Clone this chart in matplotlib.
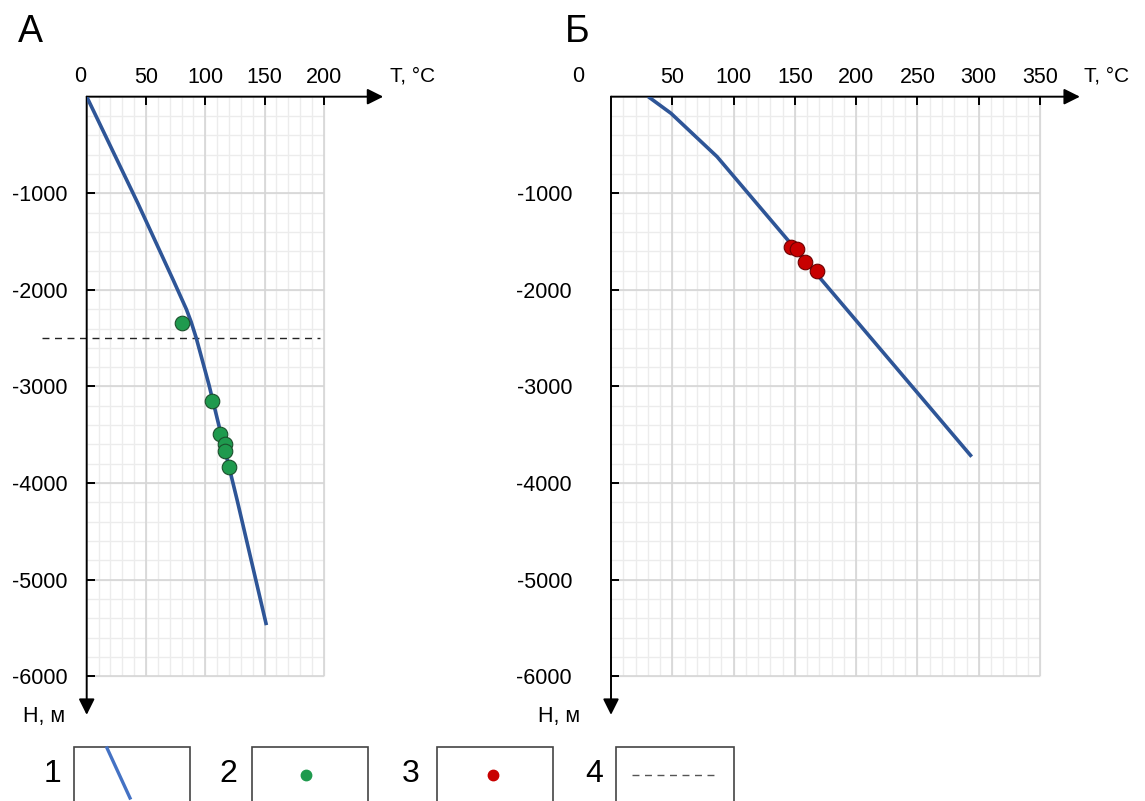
import matplotlib
matplotlib.use("Agg")
import matplotlib.pyplot as plt
from matplotlib.patches import Rectangle

plt.rcParams['font.family'] = ['Liberation Sans', 'DejaVu Sans']
plt.rcParams['axes.unicode_minus'] = False

# panel A: temperature profile (T, °C) vs depth (H, m)
curveA_T = [0.0, 43.0, 73.0, 84.0, 88.0, 92.4, 103.1, 126.8, 151.5]
curveA_H = [0, -1100, -1900, -2200, -2330, -2500, -2984, -4175, -5471]
ptsA_T = [80.6, 105.9, 112.6, 116.6, 116.4, 119.7]
ptsA_H = [-2340, -3147, -3495, -3595, -3668, -3836]
dashA_H = -2500

# panel B
curveB_T = [30.4, 48.9, 86.5, 294.2]
curveB_H = [0, -172, -621, -3727]
ptsB_T = [146.6, 152.0, 158.2, 168.3]
ptsB_H = [-1553, -1580, -1712, -1801]

yticks = [-1000, -2000, -3000, -4000, -5000, -6000]
xticksA = [50, 100, 150, 200]
xticksB = [50, 100, 150, 200, 250, 300, 350]

LINE = '#2e5597'
GREEN = '#1f9a4e'
RED = '#c80000'
FS = 15.5

fig = plt.figure(figsize=(11.45, 8.01), dpi=100)


def panel(rect, xmax, xhi, xticks, arrow_x, ypad, zero_x, unit_x, h_x, letter, letter_x):
    ax = fig.add_axes(rect)
    ax.set_xlim(0, xhi)
    ax.set_ylim(-6450, 0)
    for s in ax.spines.values():
        s.set_visible(False)
    # grid
    ax.vlines(range(10, xmax + 1, 10), -6000, 0, color='#ececec', lw=1, zorder=0)
    ax.hlines(range(-200, -6001, -200), 0, xmax, color='#ececec', lw=1, zorder=0)
    ax.vlines(range(50, xmax + 1, 50), -6000, 0, color='#d6d6d6', lw=1.2, zorder=0)
    ax.hlines(yticks, 0, xmax, color='#d6d6d6', lw=1.2, zorder=0)
    # axes arrows
    ax.annotate('', xy=(arrow_x, 0), xytext=(0, 0), annotation_clip=False,
                arrowprops=dict(arrowstyle='-|>', color='black', lw=1.4, mutation_scale=24,
                                shrinkA=0, shrinkB=0))
    ax.annotate('', xy=(0, -6400), xytext=(0, 0), annotation_clip=False,
                arrowprops=dict(arrowstyle='-|>', color='black', lw=1.4, mutation_scale=24,
                                shrinkA=0, shrinkB=0))
    ax.xaxis.tick_top()
    ax.set_xticks(xticks)
    ax.set_yticks(yticks)
    ax.tick_params(axis='x', direction='in', length=6, width=1.4, labelsize=FS, pad=6)
    ax.tick_params(axis='y', direction='in', length=6, width=1.4, labelsize=FS, pad=ypad)
    ax.text(zero_x, 214, '0', fontsize=FS, ha='center', va='center', clip_on=False)
    ax.text(unit_x, 214, 'T, °C', fontsize=15, ha='left', va='center', clip_on=False)
    ax.text(h_x, -6421, 'Н, м', fontsize=15.5, ha='right', va='center', clip_on=False)
    fig.text(letter_x, 1 - 32 / 801, letter, fontsize=27, ha='center', va='center')
    return ax


axA = panel([86.7 / 1145, 0.1015, 308.4 / 1145, 0.7778], 200, 260, xticksA, 250,
            13.5, -5.6, 256, -18.3, 'А', 30 / 1145)
axA.plot(curveA_T, curveA_H, color=LINE, lw=2.6, zorder=3, solid_capstyle='butt',
         solid_joinstyle='round')
axA.plot([-38, 197], [dashA_H, dashA_H], color='#222222', lw=1, ls=(0, (5, 4)),
         clip_on=False, zorder=2)
axA.plot(ptsA_T, ptsA_H, 'o', ms=10.5, mfc=GREEN, mec='#1b4f2c', mew=0.8, zorder=4)

axB = panel([611 / 1145, 0.1015, 478.1 / 1145, 0.7778], 350, 390, xticksB, 382.5,
            28, -26.9, 386, -25.3, 'Б', 577 / 1145)
axB.plot(curveB_T, curveB_H, color=LINE, lw=2.6, zorder=3, solid_capstyle='butt',
         solid_joinstyle='round')
axB.plot(ptsB_T, ptsB_H, 'o', ms=10.5, mfc=RED, mec='#6e0000', mew=0.8, zorder=4)

# legend strip
leg = fig.add_axes([0, 0, 1, 60 / 801])
leg.set_xlim(0, 1145)
leg.set_ylim(0, 60)
leg.axis('off')
boxes = [(74, 116), (252, 116), (437, 116), (616, 118)]
nums_x = [52, 228, 411, 594]
for (bx, bw), nx_, lab in zip(boxes, nums_x, ['1', '2', '3', '4']):
    leg.add_patch(Rectangle((bx, -10), bw, 64, fill=False, ec='#444444', lw=1.2))
    leg.text(nx_, 27, lab, fontsize=23, ha='center', va='center')
leg.plot([107, 130], [53, 3], color='#4472c4', lw=2.4)
leg.plot([306], [26], 'o', ms=7.5, mfc=GREEN, mec=GREEN)
leg.plot([493], [26], 'o', ms=7.5, mfc=RED, mec=RED)
leg.plot([632, 718], [26, 26], color='#555555', lw=1, ls=(0, (5, 4)))

fig.savefig('out.png', dpi=100)
